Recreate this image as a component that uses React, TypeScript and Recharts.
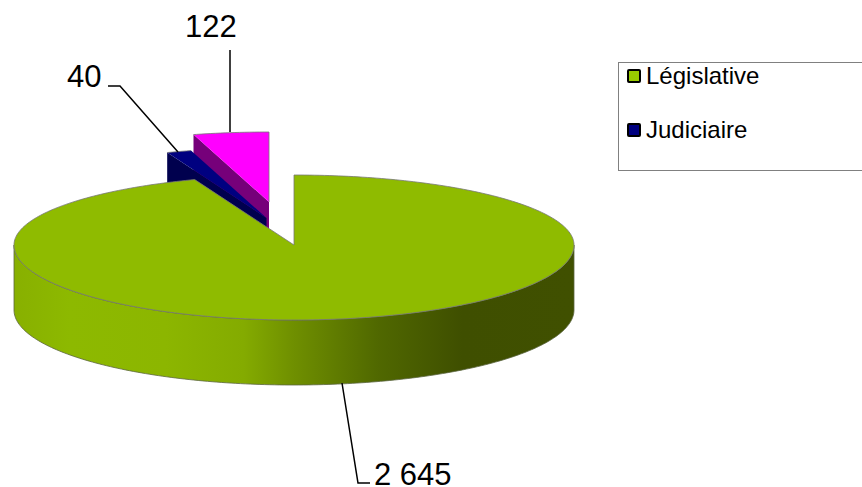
import { Legend, Pie, PieChart } from "recharts";

const CATEGORIES = ["Législative", "Judiciaire", "Troisième part"];
const VALUES = [2645, 40, 122];
const COLORS = ["#99CC00", "#000080", "#FF00FF"];
const LEGEND_NAMES = ["Législative", "Judiciaire"];

// drawn back to front, so the slices run counter-clockwise from 12 o'clock
const data = CATEGORIES.map((name, i) => ({ name, value: VALUES[i], fill: COLORS[i] })).reverse();

const FONT = '"Liberation Sans", Arial, sans-serif';
const SQUASH_BACK = 70 / 280;
const SQUASH_FRONT = 75 / 280;
const DEPTH = 65;

const FACES: Record<string, { top: string; wall: string; dx: number; dy: number; outline: string }> = {
  "Législative": { top: "#8FBB00", wall: "#5f7a00", dx: 0, dy: 0, outline: "all" },
  "Judiciaire": { top: "#000080", wall: "#00004E", dx: -27.5, dy: -27, outline: "arc" },
  "Troisième part": { top: "#FF00FF", wall: "#76007A", dx: -25, dy: -43, outline: "arcStart" },
};

const LABELS: Record<string, { x: number; y: number; line: string }> = {
  "Législative": { x: 374, y: 485, line: "342,383 358,483 370,483" },
  "Judiciaire": { x: 67, y: 87, line: "108,86 120,86 178,152" },
  "Troisième part": { x: 185, y: 37, line: "230,50 230,132" },
};

const formatValue = (v: number) => String(v).replace(/\B(?=(\d{3})+$)/g, " ");

function Slice3D(props: any) {
  const { cx, cy, outerRadius: r, startAngle, endAngle, name } = props;
  const face = FACES[name];
  const ox = cx + face.dx;
  const oy = cy + face.dy;
  const at = (deg: number, drop = 0): [number, number] => {
    const a = (deg * Math.PI) / 180;
    const s = Math.sin(a);
    return [ox + r * Math.cos(a), oy - r * s * (s > 0 ? SQUASH_BACK : SQUASH_FRONT) + drop];
  };
  const arc = (from: number, to: number, drop = 0) => {
    const pts: string[] = [];
    const dir = to >= from ? 1 : -1;
    for (let d = from; dir * (to - d) > 0; d += dir) pts.push(at(d, drop).join(","));
    pts.push(at(to, drop).join(","));
    return pts;
  };

  const outer = arc(startAngle, endAngle).join(" L");
  const topPath = `M${ox},${oy} L${outer} Z`;
  const outlinePath =
    face.outline === "all" ? topPath : face.outline === "arcStart" ? `M${ox},${oy} L${outer}` : `M${outer}`;
  const [ex, ey] = at(endAngle);
  const cutPath = `M${ox},${oy} L${ex},${ey} L${ex},${ey + DEPTH} L${ox},${oy + DEPTH} Z`;

  const rimFrom = Math.max(startAngle, 180);
  const rimTo = Math.min(endAngle, 360);
  const hasRim = rimTo > rimFrom;
  const rimPath = hasRim
    ? `M${arc(rimFrom, rimTo).join(" L")} L${arc(rimTo, rimFrom, DEPTH).join(" L")} Z`
    : "";

  return (
    <g>
      <defs>
        <linearGradient id="rimShade" gradientUnits="userSpaceOnUse" x1={cx - r} x2={cx + r} y1="0" y2="0">
          <stop offset="0" stopColor="#88B000" />
          <stop offset="0.1" stopColor="#8DB900" />
          <stop offset="0.27" stopColor="#8CB600" />
          <stop offset="0.41" stopColor="#84AB00" />
          <stop offset="0.5" stopColor="#6F8F00" />
          <stop offset="0.65" stopColor="#506800" />
          <stop offset="0.8" stopColor="#3F4F00" />
          <stop offset="1" stopColor="#405000" />
        </linearGradient>
      </defs>
      {hasRim && <path d={rimPath} fill="url(#rimShade)" stroke="#5c6640" strokeWidth={0.8} />}
      <path d={cutPath} fill={face.wall} />
      <path d={topPath} fill={face.top} />
      <path d={outlinePath} fill="none" stroke="#777" strokeWidth={0.8} strokeLinejoin="round" />
    </g>
  );
}

function renderLabel(props: any) {
  const spot = LABELS[props.name];
  return (
    <g key={props.name}>
      <polyline points={spot.line} fill="none" stroke="#000" strokeWidth={1.5} />
      <text x={spot.x} y={spot.y} fontFamily={FONT} fontSize={31} fill="#000" textAnchor="start">
        {formatValue(props.value)}
      </text>
    </g>
  );
}

function LegendBox() {
  return (
    <div
      style={{
        boxSizing: "border-box",
        width: 244,
        height: 109,
        border: "1px solid #808080",
        borderRight: "none",
        fontFamily: FONT,
        fontSize: 24,
        color: "#000",
        position: "relative",
      }}
    >
      {LEGEND_NAMES.map((name, i) => (
        <div key={name} style={{ position: "absolute", left: 8, top: i * 54 - 1, height: 28, lineHeight: "28px", whiteSpace: "nowrap" }}>
          <span
            style={{
              position: "absolute",
              left: 0,
              top: 7,
              width: 14,
              height: 14,
              boxSizing: "border-box",
              border: "2px solid #000",
              borderRadius: 2,
              background: COLORS[CATEGORIES.indexOf(name)],
            }}
          />
          <span style={{ position: "absolute", left: 19, top: 0 }}>{name}</span>
        </div>
      ))}
    </div>
  );
}

export default function App() {
  return (
    <div style={{ position: "absolute", left: 0, top: 0, width: 862, height: 487, overflow: "hidden", background: "#fff" }}>
      <PieChart width={862} height={487} margin={{ top: 0, right: 0, bottom: 0, left: 0 }}>
        <Pie
          data={data}
          dataKey="value"
          nameKey="name"
          cx={294}
          cy={245}
          innerRadius={0}
          outerRadius={280}
          startAngle={90}
          endAngle={450}
          stroke="none"
          shape={Slice3D}
          label={renderLabel}
          labelLine={false}
          isAnimationActive={false}
        />
        <Legend
          content={() => <LegendBox />}
          wrapperStyle={{ position: "absolute", left: 618, top: 62, width: 244, bottom: "auto", right: "auto" }}
        />
      </PieChart>
    </div>
  );
}
